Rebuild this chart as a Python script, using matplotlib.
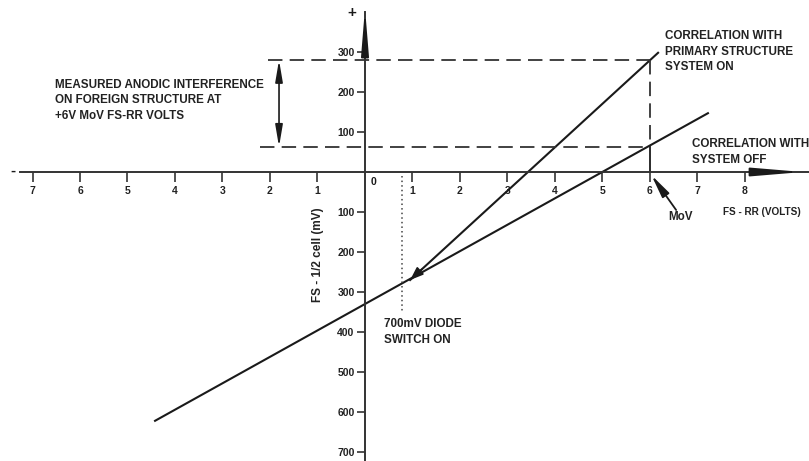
import matplotlib.pyplot as plt

# eixo x (volts FS-RR) e eixo y (mV FS - 1/2 cell)
x_ticks = [-7, -6, -5, -4, -3, -2, -1, 1, 2, 3, 4, 5, 6, 7, 8]
x_labels = [str(abs(v)) for v in x_ticks]
y_ticks = [300, 200, 100, -100, -200, -300, -400, -500, -600, -700]
y_labels = [str(abs(v)) for v in y_ticks]

# correlação com sistema desligado
off_x = [-4.42, 7.22]
off_y = [-622, 147]

# correlação com estrutura primária ligada
on_x = [0.95, 6.17]
on_y = [-270, 298]

# leituras no MoV (+6 V)
mov_v = 6
on_at_mov = 280
off_at_mov = 63

# diodo 700 mV
diode_v = 0.78
diode_bottom = -350

fonte = 'Liberation Sans'
cor = '#1a1a1a'

fig = plt.figure(figsize=(8.09, 4.61), dpi=100)
ax = fig.add_axes([0, 0, 1, 1])
ax.set_xlim(-365 / 47.5, (809 - 365) / 47.5)
ax.set_ylim((172 - 461) / 0.4, 172 / 0.4)

# eixos cruzando no zero
for lado in ['top', 'right']:
    ax.spines[lado].set_visible(False)
ax.spines['left'].set_position(('data', 0))
ax.spines['bottom'].set_position(('data', 0))
ax.spines['left'].set_bounds(-722, 400)
ax.spines['bottom'].set_bounds(-7.26, 9.35)
ax.spines['left'].set_linewidth(1.4)
ax.spines['bottom'].set_linewidth(1.4)
ax.spines['left'].set_color('#333333')
ax.spines['bottom'].set_color('#333333')

ax.set_xticks(x_ticks, x_labels)
ax.set_yticks(y_ticks, y_labels)
ax.tick_params(axis='x', direction='out', length=7, width=1.1, pad=3, labelsize=7.5, colors='#222222')
ax.tick_params(axis='y', direction='out', length=6, width=1.1, pad=1.5, labelsize=7.5, colors='#222222')
for t in ax.get_xticklabels() + ax.get_yticklabels():
    t.set_fontfamily(fonte)
    t.set_fontweight('bold')

# setas dos eixos
ax.annotate('', xy=(0, 410), xytext=(0, 300),
            arrowprops=dict(arrowstyle='-|>,head_length=2.7,head_width=0.22', mutation_scale=10,
                            color=cor, lw=1.4, shrinkA=0, shrinkB=0))
ax.annotate('', xy=(9.22, 0), xytext=(8.2, 0),
            arrowprops=dict(arrowstyle='-|>,head_length=3.0,head_width=0.25', mutation_scale=10,
                            color=cor, lw=1.4, shrinkA=0, shrinkB=0))
ax.text(-0.27, 397, '+', fontsize=11, fontweight='bold', family=fonte, ha='center', va='center', color=cor)
ax.text(-7.42, 4, '-', fontsize=11, fontweight='bold', family=fonte, ha='center', va='center', color=cor)
ax.text(0.12, -25, '0', fontsize=7.5, fontweight='bold', family=fonte, ha='left', va='center', color=cor)

# linhas de correlação
ax.plot(off_x, off_y, color=cor, lw=1.5)
ax.plot(on_x, on_y, color=cor, lw=1.5)
ax.annotate('', xy=(on_x[0], on_y[0]), xytext=(on_x[0] + 0.25, on_y[0] + 27),
            arrowprops=dict(arrowstyle='-|>,head_length=0.8,head_width=0.3', mutation_scale=10,
                            color=cor, lw=1.2, shrinkA=0, shrinkB=0))

# linhas tracejadas de leitura
tracejado = dict(color='#333333', lw=1.3, dashes=(8, 4))
ax.plot([-2.05, mov_v], [on_at_mov, on_at_mov], **tracejado)
ax.plot([-2.2, mov_v], [off_at_mov, off_at_mov], **tracejado)
ax.plot([mov_v, mov_v], [on_at_mov, off_at_mov], **tracejado)
ax.plot([mov_v, mov_v], [off_at_mov, 0], color=cor, lw=1.3)

# interferência anódica medida
ax.annotate('', xy=(-1.81, on_at_mov), xytext=(-1.81, off_at_mov),
            arrowprops=dict(arrowstyle='<|-|>,head_length=1.3,head_width=0.22', mutation_scale=10,
                            color=cor, lw=1.2, shrinkA=0, shrinkB=0))

# diodo
ax.plot([diode_v, diode_v], [-10, diode_bottom], color='#444444', lw=1.1, linestyle=(0, (1, 2)))

# MoV
ax.annotate('', xy=(6.03, -8), xytext=(6.55, -95),
            arrowprops=dict(arrowstyle='-|>,head_length=1.4,head_width=0.25', mutation_scale=10,
                            color=cor, lw=1.3, shrinkA=0, shrinkB=0))

# textos
txt = dict(family=fonte, fontweight='bold', fontsize=8.4, color='#222222', ha='left', va='top', linespacing=1.4)
ax.text(-6.53, 233, 'MEASURED ANODIC INTERFERENCE\nON FOREIGN STRUCTURE AT\n+6V MoV FS-RR VOLTS', **txt)
ax.text(6.32, 355, 'CORRELATION WITH\nPRIMARY STRUCTURE\nSYSTEM ON', **txt)
ax.text(6.88, 85, 'CORRELATION WITH\nSYSTEM OFF', **txt)
ax.text(6.38, -98, 'MoV', **txt)
ax.text(0.4, -365, '700mV DIODE\nSWITCH ON', **txt)
ax.text(7.54, -100, 'FS - RR (VOLTS)', family=fonte, fontweight='bold', fontsize=7.2,
        color='#222222', ha='left', va='center')
ax.text(-0.99, -207, 'FS - 1/2 cell (mV)', family=fonte, fontsize=8.5, fontweight='bold',
        color='#222222', rotation=90, ha='center', va='center')

fig.savefig('out.png', dpi=100)
